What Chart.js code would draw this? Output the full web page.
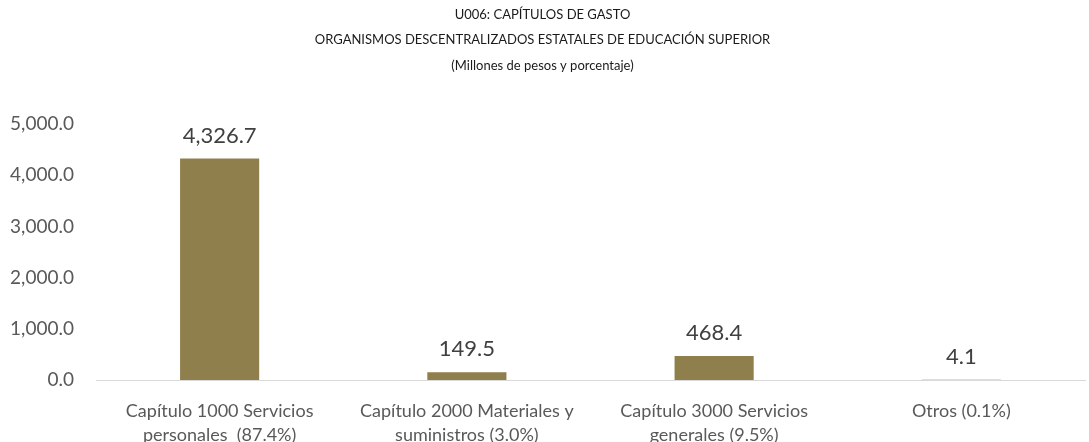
<!DOCTYPE html>
<html>
<head>
<meta charset="utf-8">
<script src="https://cdn.jsdelivr.net/npm/chart.js@4/dist/chart.umd.min.js"></script>
<style>
  body { margin: 0; background: #fff; }
  #wrap { width: 1089px; height: 442px; }
</style>
</head>
<body>
<div id="wrap"><canvas id="graph"></canvas></div>
<script>
const categories = [
  ["Capítulo 1000 Servicios", "personales  (87.4%)"],
  ["Capítulo 2000 Materiales y", "suministros (3.0%)"],
  ["Capítulo 3000 Servicios", "generales (9.5%)"],
  "Otros (0.1%)"
];
const gasto = [4326.7, 149.5, 468.4, 4.1];
const titleLines = [
  "U006: CAPÍTULOS DE GASTO",
  "ORGANISMOS DESCENTRALIZADOS ESTATALES DE EDUCACIÓN SUPERIOR",
  "(Millones de pesos y porcentaje)"
];

const fmt = v => v.toLocaleString("en-US", { minimumFractionDigits: 1, maximumFractionDigits: 1 });

// etiquetas encima de cada barra
const barLabels = {
  id: "barLabels",
  afterDatasetsDraw(chart) {
    const ctx = chart.ctx;
    const meta = chart.getDatasetMeta(0);
    ctx.save();
    ctx.font = "22px Lato";
    ctx.fillStyle = "#404040";
    ctx.textAlign = "center";
    ctx.textBaseline = "middle";
    meta.data.forEach((bar, i) => {
      ctx.fillText(fmt(gasto[i]), bar.x, bar.y - 23);
    });
    ctx.restore();
  }
};

const graph = new Chart(document.getElementById("graph").getContext("2d"), {
  type: "bar",
  data: {
    labels: categories,
    datasets: [
      {
        label: "Gasto",
        data: gasto,
        backgroundColor: "#8f7f4c",
        borderColor: "#8f7f4c",
        categoryPercentage: 1.0,
        barPercentage: 0.32,
      }
    ],
  },
  options: {
    responsive: true,
    maintainAspectRatio: false,
    animation: false,
    layout: { padding: { left: 0, right: 4, top: 0, bottom: 0 } },
    plugins: {
      legend: { display: false },
      tooltip: { enabled: false },
      title: {
        display: true,
        text: titleLines,
        color: "#1a1a1a",
        font: { family: "Lato", size: 13, weight: "normal", lineHeight: 1.95 },
        padding: { top: 2, bottom: 46 },
      },
    },
    scales: {
      x: {
        grid: { display: false },
        border: { display: true, color: "#d9d9d9", width: 1 },
        ticks: {
          color: "#595959",
          font: { family: "Lato", size: 18, lineHeight: 1.35 },
          maxRotation: 0,
          autoSkip: false,
          padding: 11,
        },
        afterFit: s => { s.height = 62; },
      },
      y: {
        min: 0,
        max: 5000,
        grid: { display: false },
        border: { display: false },
        ticks: {
          stepSize: 1000,
          color: "#595959",
          font: { family: "Lato", size: 19 },
          padding: 14,
          callback: v => fmt(v),
        },
        afterFit: s => { s.width = 96; },
      },
    },
  },
  plugins: [barLabels],
});
</script>
</body>
</html>
